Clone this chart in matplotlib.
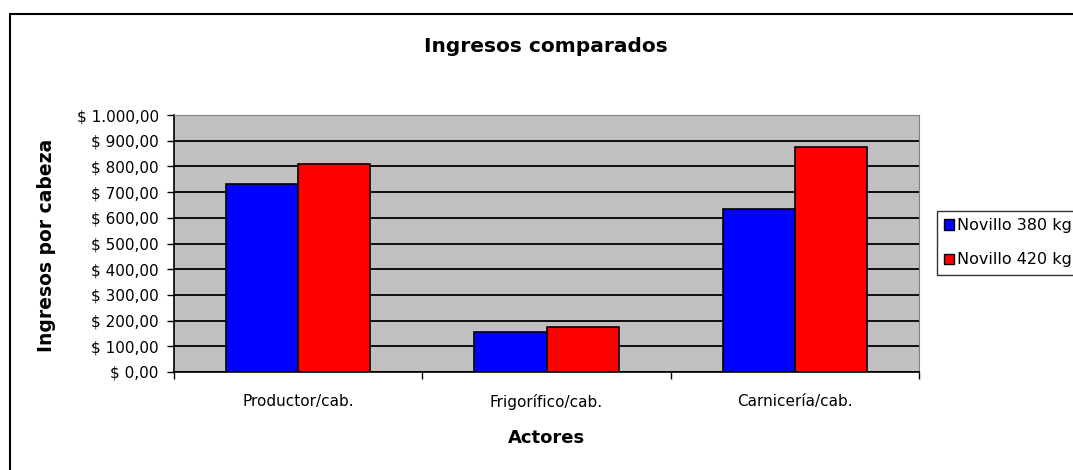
import matplotlib
matplotlib.use("Agg")
import matplotlib.pyplot as plt
import matplotlib.patches as mpatches
from matplotlib.ticker import FuncFormatter
import numpy as np

plt.rcParams['font.family'] = ['DejaVu Sans']

categorias = ["Productor/cab.", "Frigorífico/cab.", "Carnicería/cab."]
novillo_380 = [730, 155, 636]
novillo_420 = [810, 175, 876]
series = ["Novillo 380 kg", "Novillo 420 kg"]
colores = ["#0000FF", "#FF0000"]


def pesos(v, pos):
    s = f"{v:,.2f}"
    s = s.replace(",", "X").replace(".", ",").replace("X", ".")
    return "$ " + s


fig = plt.figure(figsize=(10.73, 4.70), dpi=100)
ax = fig.add_axes([174 / 1073, 98 / 470, 745 / 1073, 257 / 470])

x = np.arange(len(categorias))
ancho = 72 / 248
ax.bar(x - ancho / 2, novillo_380, ancho, color=colores[0], edgecolor="black", linewidth=1.2, label=series[0], zorder=3)
ax.bar(x + ancho / 2, novillo_420, ancho, color=colores[1], edgecolor="black", linewidth=1.2, label=series[1], zorder=3)

ax.set_facecolor("#C0C0C0")
ax.set_xlim(-0.5, 2.5)
ax.set_ylim(0, 1000)
ax.set_yticks(np.arange(0, 1001, 100))
ax.yaxis.set_major_formatter(FuncFormatter(pesos))
ax.grid(axis="y", color="black", linewidth=1.3, zorder=1)

ax.set_xticks([-0.5, 0.5, 1.5, 2.5])
ax.set_xticklabels([])
ax.set_xticks(x, minor=True)
ax.set_xticklabels(categorias, minor=True, fontsize=11)
ax.tick_params(axis="x", which="minor", length=0, pad=16)
ax.tick_params(axis="x", which="major", length=5, width=1, direction="out")
ax.tick_params(axis="y", length=5, width=1, direction="out", labelsize=11, pad=6)

ax.spines["top"].set_color("#808080")
ax.spines["right"].set_color("#808080")
ax.spines["left"].set_linewidth(1.2)
ax.spines["bottom"].set_linewidth(1.2)

fig.text(546 / 1073, 1 - 47 / 470, "Ingresos comparados", ha="center", va="center",
         fontsize=14.5, fontweight="bold")
fig.text(546 / 1073, 1 - 438 / 470, "Actores", ha="center", va="center",
         fontsize=13, fontweight="bold")
fig.text(47 / 1073, 1 - 245 / 470, "Ingresos por cabeza", ha="center", va="center",
         rotation=90, fontsize=13.5, fontweight="bold")

handles = [mpatches.Patch(facecolor=c, edgecolor="black", linewidth=1) for c in colores]
leg = fig.legend(handles, series, loc="upper left", bbox_to_anchor=(937 / 1073, 1 - 211 / 470),
                 fontsize=11.5, frameon=True, fancybox=False, handlelength=0.6, handleheight=0.6,
                 handletextpad=0.2, borderpad=0.45, labelspacing=1.2, borderaxespad=0)
leg.get_frame().set_edgecolor("black")
leg.get_frame().set_linewidth(1)

borde = mpatches.Rectangle((9.5 / 1073, -0.1), 1.2, 1 - 13.5 / 470 + 0.1, transform=fig.transFigure,
                           fill=False, edgecolor="black", linewidth=1.5, clip_on=False)
fig.patches.append(borde)

fig.savefig("out.png", dpi=100, facecolor="white")
